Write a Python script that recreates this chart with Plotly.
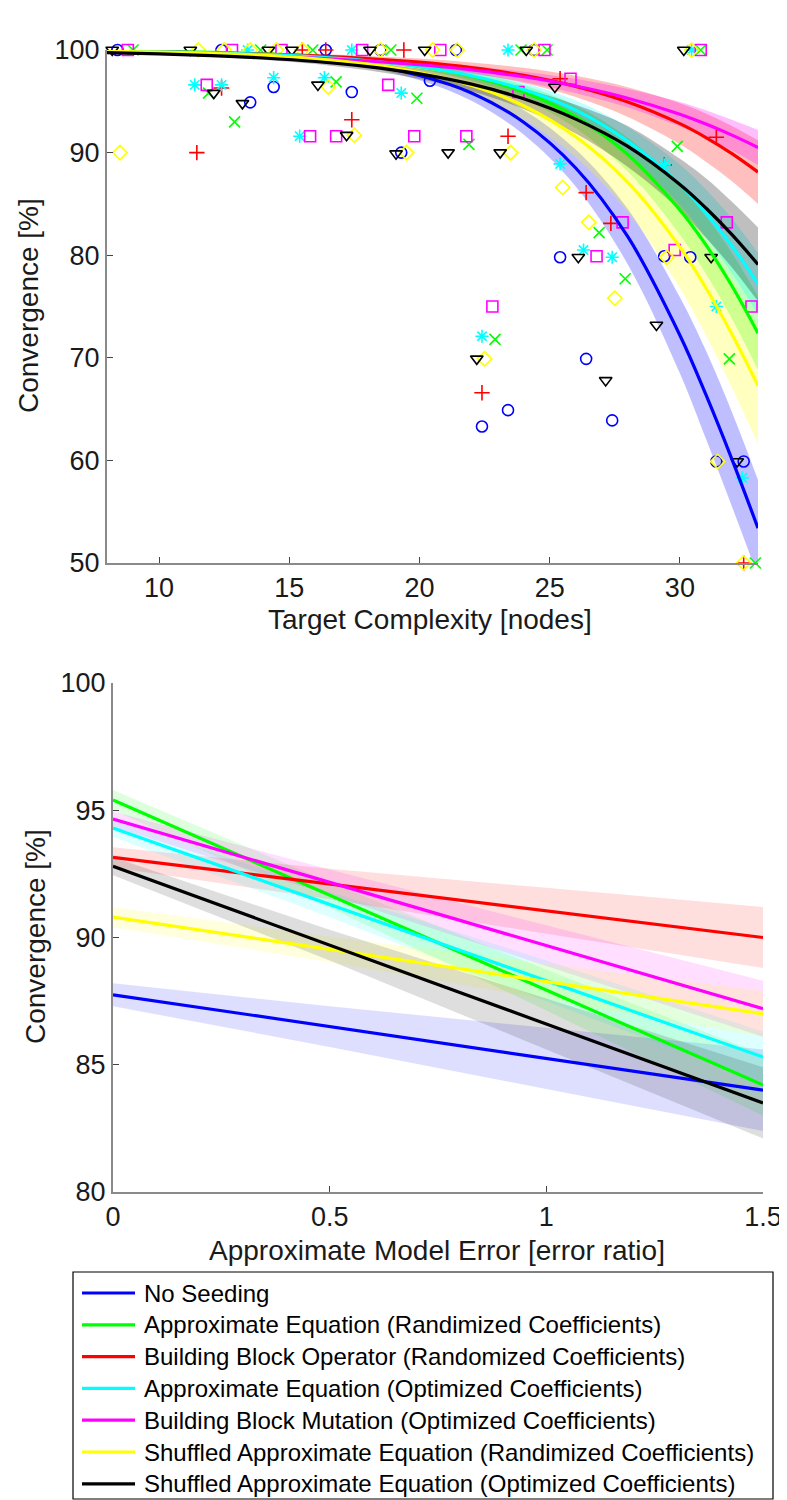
import plotly.graph_objects as go

# The page body keeps an 8px margin, so the figure is laid out in screen pixels
# shifted by that margin.
OX, OY = 8, 8
FW, FH = 779, 1492


def fx(sx):
    return (sx - OX) / FW


def fy(sy):
    return 1 - (sy - OY) / FH


# ---------------- data ----------------
names = [
    "No Seeding",
    "Approximate Equation (Randimized Coefficients)",
    "Building Block Operator (Randomized Coefficients)",
    "Approximate Equation (Optimized Coefficients)",
    "Building Block Mutation (Optimized Coefficients)",
    "Shuffled Approximate Equation (Randimized Coefficients)",
    "Shuffled Approximate Equation (Optimized Coefficients)",
]
colors = ["#0000FF", "#00FF00", "#FF0000", "#00FFFF", "#FF00FF", "#FFFF00", "#000000"]
rgb = ["0,0,255", "0,255,0", "255,0,0", "0,255,255", "255,0,255", "255,255,0", "0,0,0"]
symbols = ["circle-open", "x-thin-open", "cross-thin-open", "asterisk-open",
           "square-open", "diamond-open", "triangle-down-open"]

# --- top panel: fitted curves ---
fit_x = [8, 10, 12, 14, 16, 18, 20, 22, 24, 26, 28, 30, 31, 32, 33]
fit_ns  = [99.90, 99.83, 99.71, 99.50, 99.15, 98.55, 97.51, 95.81, 92.96, 88.5, 81.8, 72.2, 66.4, 60.1, 53.4]
fit_aer = [99.91, 99.86, 99.77, 99.62, 99.39, 99.01, 98.40, 97.44, 95.90, 93.5, 89.8, 84.4, 81.0, 77.0, 72.4]
fit_bbo = [99.87, 99.81, 99.73, 99.61, 99.43, 99.17, 98.81, 98.28, 97.52, 96.45, 94.93, 92.82, 91.47, 89.9, 88.1]
fit_aeo = [99.89, 99.82, 99.72, 99.57, 99.33, 98.95, 98.39, 97.49, 96.15, 94.14, 91.1, 86.9, 84.1, 80.9, 77.2]
fit_bbm = [99.76, 99.68, 99.57, 99.42, 99.21, 98.93, 98.56, 98.06, 97.39, 96.49, 95.30, 93.74, 92.78, 91.70, 90.5]
fit_sar = [99.87, 99.79, 99.67, 99.47, 99.14, 98.63, 97.81, 96.54, 94.57, 91.54, 87.1, 80.8, 76.8, 72.3, 67.3]
fit_sao = [99.74, 99.63, 99.46, 99.22, 98.88, 98.38, 97.68, 96.67, 95.24, 93.26, 90.6, 86.9, 84.6, 82.0, 79.1]

# half-widths of the shaded confidence bands
ci_ns  = [0.05, 0.05, 0.06, 0.10, 0.15, 0.25, 0.45, 0.75, 1.2, 1.8, 2.7, 3.7, 4.3, 4.6, 4.7]
ci_aer = [0.03, 0.03, 0.04, 0.07, 0.11, 0.18, 0.28, 0.45, 0.7, 1.1, 1.65, 2.4, 2.8, 3.2, 3.6]
ci_bbo = [0.04, 0.06, 0.08, 0.12, 0.17, 0.25, 0.35, 0.50, 0.74, 1.03, 1.45, 2.0, 2.35, 2.7, 3.1]
ci_aeo = [0.03, 0.03, 0.04, 0.06, 0.10, 0.16, 0.27, 0.42, 0.63, 0.94, 1.4, 1.95, 2.3, 2.65, 3.0]
ci_bbm = [0.05, 0.06, 0.09, 0.12, 0.16, 0.21, 0.28, 0.38, 0.50, 0.70, 0.9, 1.2, 1.35, 1.5, 1.7]
ci_sar = [0.05, 0.06, 0.09, 0.14, 0.22, 0.35, 0.56, 0.87, 1.35, 2.0, 2.9, 4.0, 4.6, 5.2, 5.7]
ci_sao = [0.06, 0.08, 0.12, 0.17, 0.24, 0.36, 0.50, 0.70, 1.0, 1.4, 2.0, 2.5, 2.9, 3.2, 3.6]

# --- top panel: observed convergence per target ---
pts_ns_x = [8.4, 12.4, 16.4, 18.5, 21.4, 24.4, 13.5, 14.4, 17.4, 19.3, 20.4, 22.4, 23.4, 25.4, 26.4, 27.4, 29.4, 30.4, 31.4, 32.45]
pts_ns_y = [100, 100, 100, 100, 100, 100, 94.9, 96.4, 95.9, 90, 97.0, 63.3, 64.9, 79.8, 69.9, 63.9, 79.9, 79.8, 59.9, 59.9]
pts_aer_x = [9.0, 13.9, 15.9, 18.9, 23.9, 24.9, 30.8, 11.9, 12.9, 16.8, 19.9, 21.9, 22.9, 26.9, 27.9, 29.9, 31.9, 32.9]
pts_aer_y = [100, 100, 100, 100, 100, 100, 100, 95.8, 93.0, 96.9, 95.3, 90.8, 71.8, 82.2, 77.7, 90.6, 69.9, 50]
pts_bbo_x = [15.5, 16.4, 19.4, 11.45, 12.4, 17.4, 22.4, 23.4, 25.4, 26.4, 27.35, 29.4, 31.4, 32.45]
pts_bbo_y = [100, 100, 100, 90, 96.3, 93.2, 66.6, 91.6, 97.2, 86.1, 83.1, 88.8, 91.5, 50]
pts_aeo_x = [13.4, 17.4, 23.4, 30.45, 11.37, 12.4, 14.4, 16.35, 19.3, 15.4, 22.4, 25.4, 26.3, 27.4, 29.4, 31.4, 32.4]
pts_aeo_y = [100, 100, 100, 100, 96.6, 96.6, 97.3, 97.3, 95.8, 91.6, 72.1, 88.9, 80.5, 79.8, 88.8, 75.0, 58.3]
pts_bbm_x = [8.8, 12.8, 14.7, 17.8, 20.8, 24.8, 30.8, 11.83, 15.8, 16.8, 18.8, 19.8, 21.8, 22.8, 23.8, 25.8, 26.8, 27.8, 29.8, 31.8, 32.75]
pts_bbm_y = [100, 100, 100, 100, 100, 100, 100, 96.6, 91.6, 91.6, 96.6, 91.6, 91.6, 75.0, 95.9, 97.2, 79.9, 83.2, 80.5, 83.2, 75.0]
pts_sar_x = [11.5, 12.5, 13.5, 14.5, 15.5, 18.5, 20.5, 21.45, 24.4, 30.45, 8.5, 16.5, 17.5, 19.5, 22.5, 23.5, 25.5, 26.5, 27.5, 29.5, 31.45, 32.45]
pts_sar_y = [100, 100, 100, 100, 100, 100, 100, 100, 100, 100, 90, 96.4, 91.7, 90, 69.9, 90, 86.6, 83.2, 75.8, 79.8, 59.9, 50]
pts_sao_x = [8.2, 11.2, 14.2, 15.1, 18.1, 20.2, 24.1, 30.15, 12.1, 13.2, 16.1, 17.2, 19.1, 21.1, 22.2, 23.1, 25.2, 26.1, 27.15, 29.1, 31.2, 32.2]
pts_sao_y = [100, 100, 100, 100, 100, 100, 100, 100, 95.8, 94.8, 96.6, 91.7, 89.9, 90, 69.9, 90, 96.4, 79.8, 67.8, 73.2, 79.8, 59.9]

# --- bottom panel: linear fits vs approximate model error ---
err_x = [0, 0.5, 1.0, 1.5]
lin_ns  = [87.75, 86.5, 85.25, 84.0]
lin_aer = [95.4, 91.67, 87.93, 84.2]
lin_bbo = [93.15, 92.1, 91.05, 90.0]
lin_aeo = [94.3, 91.3, 88.3, 85.3]
lin_bbm = [94.65, 92.17, 89.68, 87.2]
lin_sar = [90.8, 89.53, 88.27, 87.0]
lin_sao = [92.8, 89.7, 86.6, 83.5]
lci_ns  = [0.45, 0.8, 1.2, 1.6]
lci_aer = [0.4, 0.5, 0.8, 1.2]
lci_bbo = [0.4, 0.6, 0.9, 1.2]
lci_aeo = [0.35, 0.5, 0.8, 1.0]
lci_bbm = [0.3, 0.5, 0.8, 1.1]
lci_sar = [0.4, 0.5, 0.7, 0.9]
lci_sao = [0.35, 0.6, 1.0, 1.4]

fits = [fit_ns, fit_aer, fit_bbo, fit_aeo, fit_bbm, fit_sar, fit_sao]
cis = [ci_ns, ci_aer, ci_bbo, ci_aeo, ci_bbm, ci_sar, ci_sao]
pts = [(pts_ns_x, pts_ns_y), (pts_aer_x, pts_aer_y), (pts_bbo_x, pts_bbo_y), (pts_aeo_x, pts_aeo_y),
       (pts_bbm_x, pts_bbm_y), (pts_sar_x, pts_sar_y), (pts_sao_x, pts_sao_y)]
lins = [lin_ns, lin_aer, lin_bbo, lin_aeo, lin_bbm, lin_sar, lin_sao]
lcis = [lci_ns, lci_aer, lci_bbo, lci_aeo, lci_bbm, lci_sar, lci_sao]

FONT = "Arial, 'Liberation Sans', Helvetica, sans-serif"

fig = go.Figure()

# ---------- top panel ----------
for i in range(7):
    lo = [y - c for y, c in zip(fits[i], cis[i])]
    hi = [y + c for y, c in zip(fits[i], cis[i])]
    fig.add_trace(go.Scatter(x=fit_x, y=lo, mode="lines", line=dict(width=0, shape="spline"),
                             showlegend=False, hoverinfo="skip", xaxis="x", yaxis="y"))
    fig.add_trace(go.Scatter(x=fit_x, y=hi, mode="lines", line=dict(width=0, shape="spline"),
                             fill="tonexty", fillcolor=f"rgba({rgb[i]},0.25)",
                             showlegend=False, hoverinfo="skip", xaxis="x", yaxis="y"))
for i in range(7):
    fig.add_trace(go.Scatter(x=pts[i][0], y=pts[i][1], mode="markers",
                             marker=dict(symbol=symbols[i], size=11, color=colors[i],
                                         line=dict(width=1.6, color=colors[i])),
                             cliponaxis=False, showlegend=False, xaxis="x", yaxis="y"))
for i in range(7):
    fig.add_trace(go.Scatter(x=fit_x, y=fits[i], mode="lines",
                             line=dict(color=colors[i], width=3.2, shape="spline"),
                             showlegend=False, xaxis="x", yaxis="y"))

# ---------- bottom panel ----------
for i in range(7):
    lo = [y - c for y, c in zip(lins[i], lcis[i])]
    hi = [y + c for y, c in zip(lins[i], lcis[i])]
    fig.add_trace(go.Scatter(x=err_x, y=lo, mode="lines", line=dict(width=0),
                             showlegend=False, hoverinfo="skip", xaxis="x2", yaxis="y2"))
    fig.add_trace(go.Scatter(x=err_x, y=hi, mode="lines", line=dict(width=0),
                             fill="tonexty", fillcolor=f"rgba({rgb[i]},0.13)",
                             showlegend=False, hoverinfo="skip", xaxis="x2", yaxis="y2"))
for i in range(7):
    fig.add_trace(go.Scatter(x=err_x, y=lins[i], mode="lines", name=names[i],
                             line=dict(color=colors[i], width=3.2),
                             showlegend=False, xaxis="x2", yaxis="y2"))

axis_common = dict(showline=True, linecolor="#8a8a8a", linewidth=2, ticks="inside", ticklen=6,
                   tickcolor="#444444", tickwidth=1, showgrid=False, zeroline=False, mirror=False,
                   tickfont=dict(family=FONT, size=27, color="#1a1a1a"), automargin=False)

fig.update_layout(
    width=FW, height=FH,
    margin=dict(l=0, r=0, t=0, b=0),
    paper_bgcolor="white", plot_bgcolor="white",
    font=dict(family=FONT, color="#1a1a1a"),
    xaxis=dict(domain=[fx(107), fx(758)], range=[8, 33], tickvals=[10, 15, 20, 25, 30],
               anchor="y", **axis_common),
    yaxis=dict(domain=[fy(563), fy(50)], range=[50, 100], tickvals=[50, 60, 70, 80, 90, 100],
               anchor="x", **axis_common),
    xaxis2=dict(domain=[fx(113), fx(763)], range=[0, 1.5], tickvals=[0, 0.5, 1, 1.5],
                ticktext=["0", "0.5", "1", "1.5"], anchor="y2", **axis_common),
    yaxis2=dict(domain=[fy(1192), fy(683)], range=[80, 100], tickvals=[80, 85, 90, 95, 100],
                anchor="x2", **axis_common),
    showlegend=False,
)

title_font = dict(family=FONT, size=28, color="#1a1a1a")
fig.add_annotation(text="Convergence [%]", x=fx(28), y=fy(306), xref="paper", yref="paper",
                   textangle=-90, showarrow=False, font=title_font, xanchor="center", yanchor="middle")
fig.add_annotation(text="Target Complexity [nodes]", x=fx(430), y=fy(619), xref="paper", yref="paper",
                   showarrow=False, font=title_font, xanchor="center", yanchor="middle")
fig.add_annotation(text="Convergence [%]", x=fx(35), y=fy(937), xref="paper", yref="paper",
                   textangle=-90, showarrow=False, font=title_font, xanchor="center", yanchor="middle")
fig.add_annotation(text="Approximate Model Error [error ratio]", x=fx(437), y=fy(1250),
                   xref="paper", yref="paper", showarrow=False, font=title_font,
                   xanchor="center", yanchor="middle")

# ---------- legend box (drawn in paper coordinates) ----------
LEG_L, LEG_R, LEG_T, LEG_B = 73, 773, 1272, 1499
fig.add_shape(type="rect", xref="paper", yref="paper",
              x0=fx(LEG_L), x1=fx(LEG_R), y0=fy(LEG_B), y1=fy(LEG_T),
              line=dict(color="#000000", width=1.2), fillcolor="white", layer="above")
for i in range(7):
    ry = 1293 + 31.8 * i
    fig.add_shape(type="line", xref="paper", yref="paper",
                  x0=fx(82), x1=fx(135), y0=fy(ry), y1=fy(ry),
                  line=dict(color=colors[i], width=3.2), layer="above")
    fig.add_annotation(text=names[i], x=fx(142), y=fy(ry), xref="paper", yref="paper",
                       showarrow=False, xanchor="left", yanchor="middle",
                       font=dict(family=FONT, size=24, color="#000000"))

fig.write_html("out.html")
